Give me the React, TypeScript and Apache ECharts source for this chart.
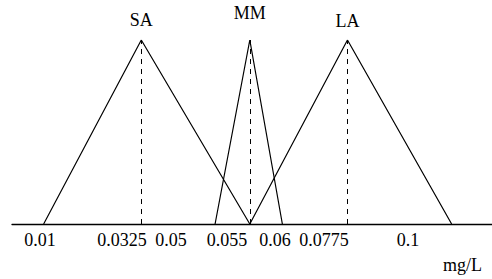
import React, { useEffect, useRef } from "react";
import * as echarts from "echarts";

// Membership functions (mg/L, membership degree)
const saPoints: [number, number][] = [[0.01, 0], [0.0325, 1], [0.0575, 0]];
const mmPoints: [number, number][] = [[0.0495, 0], [0.0575, 1], [0.065, 0]];
const laPoints: [number, number][] = [[0.0575, 0], [0.08, 1], [0.104, 0]];
const setNames = ["SA", "MM", "LA"];
const peakX = [0.0325, 0.0575, 0.08];

// Tick labels and where they sit along the axis (as placed in the figure)
const tickTexts = ["0.01", "0.0325", "0.05", "0.055", "0.06", "0.0775", "0.1"];
const tickAnchors = [0.00916, 0.02806, 0.03935, 0.05226, 0.06332, 0.07462, 0.09397];
const unitLabel = "mg/L";

const FONT = "serif";

export default function App() {
  const ref = useRef<HTMLDivElement>(null);
  useEffect(() => {
    if (!ref.current) return;
    const chart = echarts.init(ref.current, undefined, { renderer: "svg" });
    const sets = [saPoints, mmPoints, laPoints];
    const labelDist = [11, 18, 10];
    const series: any[] = sets.map((pts, i) => ({
      type: "line",
      name: setNames[i],
      data: pts.map((p) =>
        p[1] === 1
          ? {
              value: p,
              label: {
                show: true,
                position: "top",
                distance: labelDist[i],
                formatter: setNames[i],
                fontFamily: FONT,
                fontSize: 18,
                color: "#000",
              },
            }
          : { value: p }
      ),
      symbol: "circle",
      symbolSize: 0,
      showSymbol: true,
      itemStyle: { color: "#000" },
      lineStyle: { color: "#000", width: 1.2 },
      markLine: {
        silent: true,
        symbol: "none",
        precision: 6,
        label: { show: false },
        lineStyle: { color: "#000", width: 1, type: [5, 5] },
        data: [{ xAxis: peakX[i] }],
      },
    }));
    chart.setOption({
      animation: false,
      backgroundColor: "#fff",
      textStyle: { fontFamily: FONT },
      grid: { left: 12, right: 0, top: 40, bottom: 55 },
      xAxis: {
        type: "value",
        min: 0.00271,
        max: 0.1133,
        axisLine: { show: true, lineStyle: { color: "#000", width: 1.3 } },
        axisTick: { show: false },
        splitLine: { show: false },
        axisLabel: {
          customValues: tickAnchors,
          hideOverlap: false,
          margin: 7,
          fontFamily: FONT,
          fontSize: 18,
          color: "#000",
          formatter: (v: number) => {
            let best = 0;
            tickAnchors.forEach((a, k) => {
              if (Math.abs(a - v) < Math.abs(tickAnchors[best] - v)) best = k;
            });
            return tickTexts[best];
          },
        },
      },
      yAxis: {
        type: "value",
        min: 0,
        max: 1,
        show: false,
      },
      graphic: [
        {
          type: "text",
          right: 10,
          top: 256,
          style: {
            text: unitLabel,
            fontFamily: FONT,
            fontSize: 18,
            fill: "#000",
          },
        },
      ],
      series,
    });
    return () => chart.dispose();
  }, []);
  return (
    <div
      ref={ref}
      style={{ position: "fixed", left: 0, top: 0, width: 492, height: 279 }}
    />
  );
}
